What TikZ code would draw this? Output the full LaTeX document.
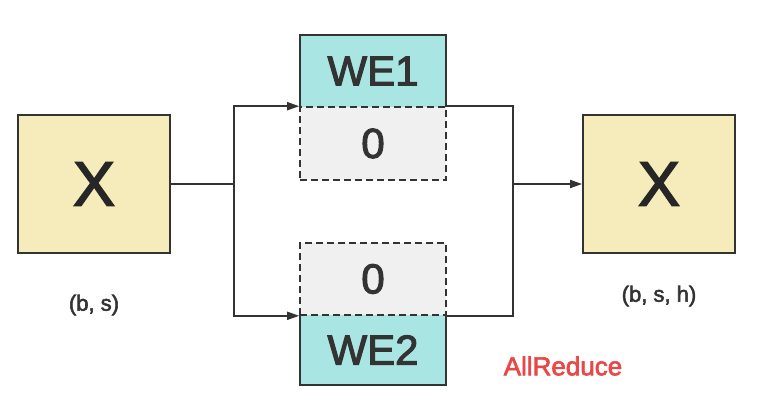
\documentclass[tikz,border=0pt]{standalone}
\usepackage{fontspec}
\setmainfont{Liberation Sans}
\newfontfamily\medfont{Liberation Sans}[FakeBold=2.5]
\usetikzlibrary{arrows.meta}
\definecolor{boxyellow}{HTML}{F5EBBB}
\definecolor{boxcyan}{HTML}{A9E5E3}
\definecolor{boxgray}{HTML}{F0F0F0}
\definecolor{linegray}{HTML}{333333}
\definecolor{redtext}{HTML}{E84848}
\tikzset{
  xbox/.style={draw=linegray, line width=1.8pt, fill=boxyellow, minimum width=152pt, minimum height=138pt, inner sep=0pt, font=\medfont\fontsize{63}{63}\selectfont, text=black!85},
  webox/.style={fill=boxcyan, minimum width=146pt, inner sep=0pt, font=\medfont\fontsize{42}{42}\selectfont, text=linegray},
  zerobox/.style={draw=linegray, line width=1.6pt, dash pattern=on 7pt off 4pt, fill=boxgray, minimum width=146pt, minimum height=73pt, inner sep=0pt, font=\medfont\fontsize{42}{42}\selectfont, text=linegray},
  dimlabel/.style={font=\medfont\fontsize{22}{22}\selectfont, text=linegray},
  conn/.style={draw=linegray, line width=1.8pt},
  arr/.style={conn, -{Triangle[length=12pt, width=8pt]}}
}
\begin{document}
\begin{tikzpicture}[x=1pt, y=-1pt]
\useasboundingbox (0,0) rectangle (765,417);
% left X
\node[xbox] (xl) at (94,184) {X};
\node[dimlabel] (lbl) at (94,305) {(b, s)};
% top group
\node[webox, minimum height=72pt] (we1) at (373,71) {WE1};
\node[zerobox] (z1) at (373,143.5) {0};
\draw[linegray, line width=1.6pt] (we1.south west) -- (we1.north west) -- (we1.north east) -- (we1.south east);
% bottom group
\node[webox, minimum height=70pt] (we2) at (373,350) {WE2};
\node[zerobox, minimum height=72pt] (z2) at (373,279) {0};
\draw[linegray, line width=1.6pt] (we2.north west) -- (we2.south west) -- (we2.south east) -- (we2.north east);
% right X
\node[xbox, minimum height=138pt] (xr) at (659,184) {X};
\node[dimlabel] (rlbl) at (659,296) {(b, s, h)};
\node[font=\medfont\fontsize{26}{26}\selectfont, text=redtext] (ar) at (563,366) {AllReduce};
% connectors
\coordinate (j1) at (234,184);
\coordinate (j2) at (513,184);
\draw[conn] (xl.east) -- (j1);
\draw[arr] (j1) |- (z1.north west);
\draw[arr] (j1) |- (z2.south west);
\draw[conn] (z1.north east) -| (j2);
\draw[conn] (z2.south east) -| (j2);
\draw[arr] (j2) -- (xr.west);
\end{tikzpicture}
\end{document}
